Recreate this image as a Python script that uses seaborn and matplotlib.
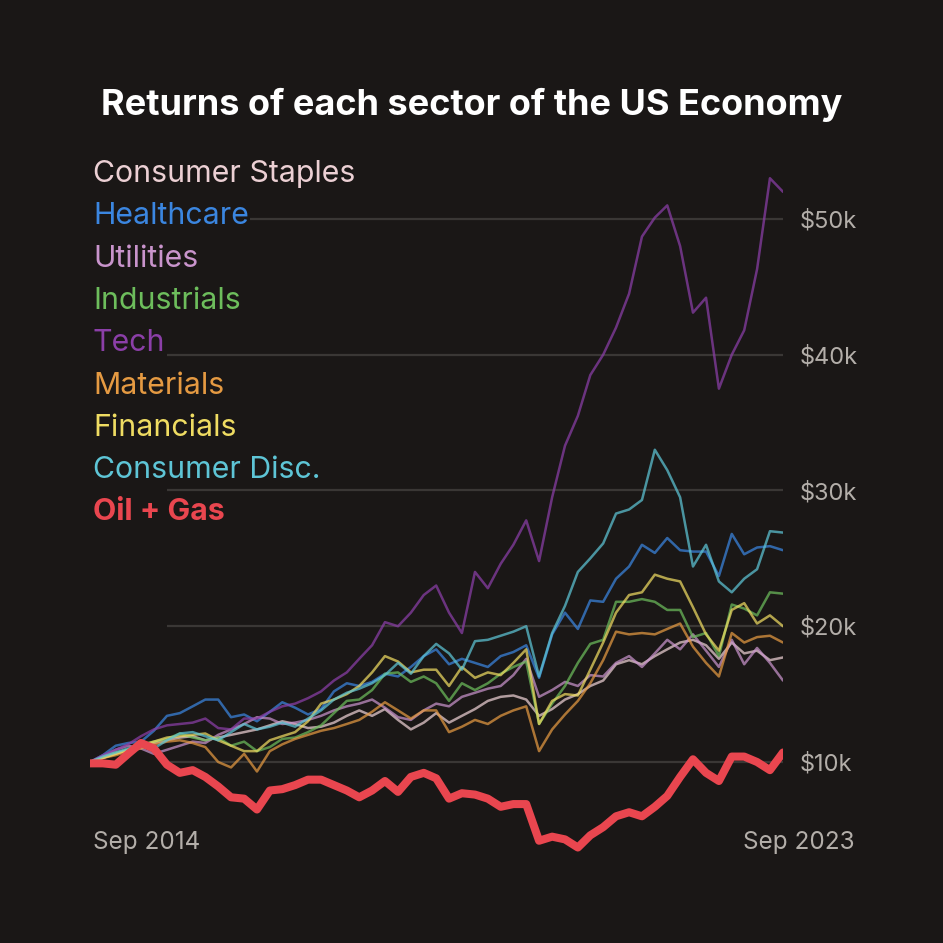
import pandas as pd
import seaborn as sns
import matplotlib.pyplot as plt
import numpy as np

# growth of $10k, one value every 2 months, Sep 2014 -> Sep 2023 (in $k)
dates = pd.date_range('2014-09-01', periods=55, freq='2MS')

consumer_staples = [10.0, 10.3, 10.6, 10.9, 11.3, 11.4, 11.6, 11.8, 11.9, 11.6,
                    11.8, 12.0, 12.2, 12.4, 12.7, 13.0, 12.8, 12.5, 12.6, 12.9,
                    13.4, 13.8, 13.4, 13.9, 13.1, 12.4, 12.9, 13.6, 12.9, 13.4,
                    13.9, 14.5, 14.8, 14.9, 14.6, 13.4, 13.9, 14.6, 15.0, 15.6,
                    16.0, 17.2, 17.5, 17.2, 17.8, 18.3, 18.8, 19.0, 18.6, 17.6,
                    18.8, 18.0, 18.2, 17.5, 17.7]
healthcare = [10.0, 10.5, 11.2, 11.4, 11.5, 12.3, 13.4, 13.6, 14.1, 14.6,
              14.6, 13.3, 13.5, 13.0, 13.7, 14.4, 14.0, 13.5, 13.9, 15.2,
              15.8, 15.6, 15.9, 16.5, 16.3, 17.0, 17.8, 18.3, 17.2, 17.6,
              17.3, 17.0, 17.8, 18.1, 18.6, 16.2, 19.4, 21.0, 19.8, 21.9,
              21.8, 23.5, 24.4, 26.0, 25.4, 26.5, 25.6, 25.5, 25.5, 23.7,
              26.8, 25.3, 25.8, 25.9, 25.6]
utilities = [10.0, 10.4, 10.9, 11.2, 11.0, 10.6, 10.9, 11.2, 11.5, 11.4,
             12.0, 12.4, 12.8, 13.3, 13.2, 12.8, 12.9, 13.1, 13.4, 13.8,
             14.1, 14.3, 14.6, 14.0, 13.3, 13.1, 13.8, 14.3, 14.1, 14.8,
             15.1, 15.4, 15.6, 16.4, 17.6, 14.8, 15.3, 15.9, 15.6, 16.4,
             16.3, 17.3, 17.8, 17.0, 18.0, 19.0, 18.3, 19.4, 18.2, 17.0,
             19.0, 17.2, 18.4, 17.3, 16.0]
industrials = [10.0, 10.4, 10.7, 10.9, 11.3, 11.5, 11.7, 12.1, 11.8, 11.6,
               11.8, 11.2, 11.5, 10.8, 11.1, 11.7, 11.8, 12.2, 12.7, 13.6,
               14.5, 14.6, 15.3, 16.5, 16.6, 15.9, 16.3, 15.8, 14.5, 15.8,
               15.3, 15.8, 16.5, 17.0, 17.4, 12.8, 14.3, 15.6, 17.3, 18.7,
               19.0, 21.8, 21.8, 22.0, 21.8, 21.2, 21.2, 19.2, 19.5, 17.8,
               21.6, 21.3, 20.8, 22.5, 22.4]
tech = [10.0, 10.5, 10.9, 11.3, 11.9, 12.4, 12.7, 12.8, 12.9, 13.2,
        12.5, 12.4, 13.2, 13.2, 13.7, 14.1, 14.3, 14.7, 15.2, 16.0,
        16.6, 17.6, 18.6, 20.3, 20.0, 21.0, 22.3, 23.0, 21.0, 19.5,
        24.0, 22.8, 24.6, 26.0, 27.8, 24.8, 29.5, 33.3, 35.5, 38.5,
        40.0, 42.0, 44.5, 48.7, 50.1, 51.0, 48.0, 43.1, 44.2, 37.5,
        40.0, 41.8, 46.3, 53.0, 52.0]
materials = [10.0, 10.3, 10.5, 10.8, 11.0, 11.3, 11.5, 11.6, 11.4, 11.1,
             10.0, 9.6, 10.6, 9.3, 10.8, 11.3, 11.7, 12.0, 12.3, 12.5,
             12.8, 13.1, 13.7, 14.4, 13.8, 13.2, 13.8, 13.8, 12.2, 12.6,
             13.1, 12.8, 13.4, 13.8, 14.1, 10.8, 12.4, 13.5, 14.5, 15.8,
             17.5, 19.6, 19.4, 19.5, 19.4, 19.8, 20.2, 18.5, 17.3, 16.3,
             19.5, 18.8, 19.2, 19.3, 18.8]
financials = [10.0, 10.3, 10.6, 10.9, 11.2, 11.5, 11.8, 11.9, 12.0, 12.1,
              11.6, 11.2, 10.8, 10.8, 11.6, 11.9, 12.2, 13.0, 14.3, 14.6,
              15.0, 15.6, 16.6, 17.8, 17.4, 16.6, 16.8, 16.8, 15.6, 17.0,
              16.2, 16.6, 16.4, 17.3, 18.3, 12.8, 14.5, 15.0, 14.9, 16.8,
              18.8, 21.0, 22.3, 22.5, 23.8, 23.5, 23.3, 21.4, 19.4, 18.2,
              21.2, 21.7, 20.2, 20.8, 20.0]
consumer_disc = [10.0, 10.4, 10.7, 11.0, 11.2, 11.0, 11.6, 12.1, 12.2, 11.9,
                 11.6, 12.2, 12.8, 12.4, 12.6, 12.9, 12.6, 13.2, 13.8, 14.6,
                 15.1, 15.4, 15.8, 16.4, 17.3, 16.5, 17.8, 18.7, 18.0, 16.8,
                 18.9, 19.0, 19.3, 19.6, 20.0, 16.3, 19.5, 21.5, 24.0, 25.0,
                 26.1, 28.3, 28.6, 29.3, 33.0, 31.5, 29.5, 24.4, 26.0, 23.3,
                 22.5, 23.5, 24.2, 27.0, 26.9]
oil_gas = [9.9, 9.9, 9.8, 10.6, 11.4, 11.0, 9.8, 9.2, 9.4, 8.9,
           8.2, 7.4, 7.3, 6.5, 7.9, 8.0, 8.3, 8.7, 8.7, 8.3,
           7.9, 7.4, 7.9, 8.6, 7.8, 8.9, 9.2, 8.8, 7.3, 7.7,
           7.6, 7.3, 6.7, 6.9, 6.9, 4.2, 4.5, 4.3, 3.7, 4.6,
           5.2, 6.0, 6.3, 6.0, 6.7, 7.5, 8.9, 10.2, 9.2, 8.6,
           10.4, 10.4, 10.0, 9.4, 10.7]

sectors = ['Consumer Staples', 'Healthcare', 'Utilities', 'Industrials', 'Tech',
           'Materials', 'Financials', 'Consumer Disc.', 'Oil + Gas']
values = [consumer_staples, healthcare, utilities, industrials, tech,
          materials, financials, consumer_disc, oil_gas]
colors = ['#ecd0d4', '#3b86e0', '#c994cc', '#6dbd5c', '#8b3fa8',
          '#e59a42', '#efdc62', '#5ec5d6', '#e9464f']

y_ticks = [10, 20, 30, 40, 50]
y_labels = ['$10k', '$20k', '$30k', '$40k', '$50k']

df = pd.DataFrame({
    'date': np.tile(dates, len(sectors)),
    'sector': np.repeat(sectors, len(dates)),
    'value': np.concatenate(values),
})

bg = '#1a1716'
sns.set_style('dark', {'axes.facecolor': bg, 'figure.facecolor': bg})
plt.rcParams['font.family'] = ['Inter', 'DejaVu Sans']

fig = plt.figure(figsize=(9.43, 9.43), dpi=100)
# y range 2..56 maps $10k to ~762px and $50k to ~219px
ax = fig.add_axes([90 / 943, 0.07677, 693 / 943, 0.77741])

# faint gridlines, starting a bit in from the left
ax.hlines(y_ticks, dates[6], dates[-1], color='#3a3735', lw=1.6, zorder=0)

for name, col in zip(sectors, colors):
    sub = df[df['sector'] == name]
    if name == 'Oil + Gas':
        sns.lineplot(data=sub, x='date', y='value', color=col, lw=5.8, ax=ax,
                     solid_capstyle='round', solid_joinstyle='round', zorder=5)
    else:
        sns.lineplot(data=sub, x='date', y='value', color=col, lw=1.8, alpha=0.72, ax=ax,
                     solid_joinstyle='round', zorder=3)

ax.set_xlim(dates[0], dates[-1])
ax.set_ylim(2, 56)
ax.set_xlabel('')
ax.set_ylabel('')
ax.set_xticks([])
ax.yaxis.tick_right()
ax.set_yticks(y_ticks)
ax.set_yticklabels(y_labels)
ax.tick_params(axis='y', length=0, pad=12, labelsize=17, labelcolor='#b3aea9')
ax.grid(False)
for s in ax.spines.values():
    s.set_visible(False)

fig.text(0.5, 1 - 105 / 943, 'Returns of each sector of the US Economy',
         ha='center', va='center', color='white', fontsize=26, fontweight='bold')

for i, (name, col) in enumerate(zip(sectors, colors)):
    y = 174 + i * 42.3
    fig.text(93 / 943, 1 - y / 943, name, ha='left', va='center', color=col,
             fontsize=21.8, fontweight='bold' if name == 'Oil + Gas' else 'normal',
             bbox=dict(facecolor=bg, edgecolor='none', pad=1))

fig.text(93 / 943, 1 - 842 / 943, 'Sep 2014', ha='left', va='center',
         color='#b3aea9', fontsize=17.5)
fig.text(855 / 943, 1 - 842 / 943, 'Sep 2023', ha='right', va='center',
         color='#b3aea9', fontsize=17.5)

plt.savefig('out.png', dpi=100, facecolor=bg)
plt.close()
